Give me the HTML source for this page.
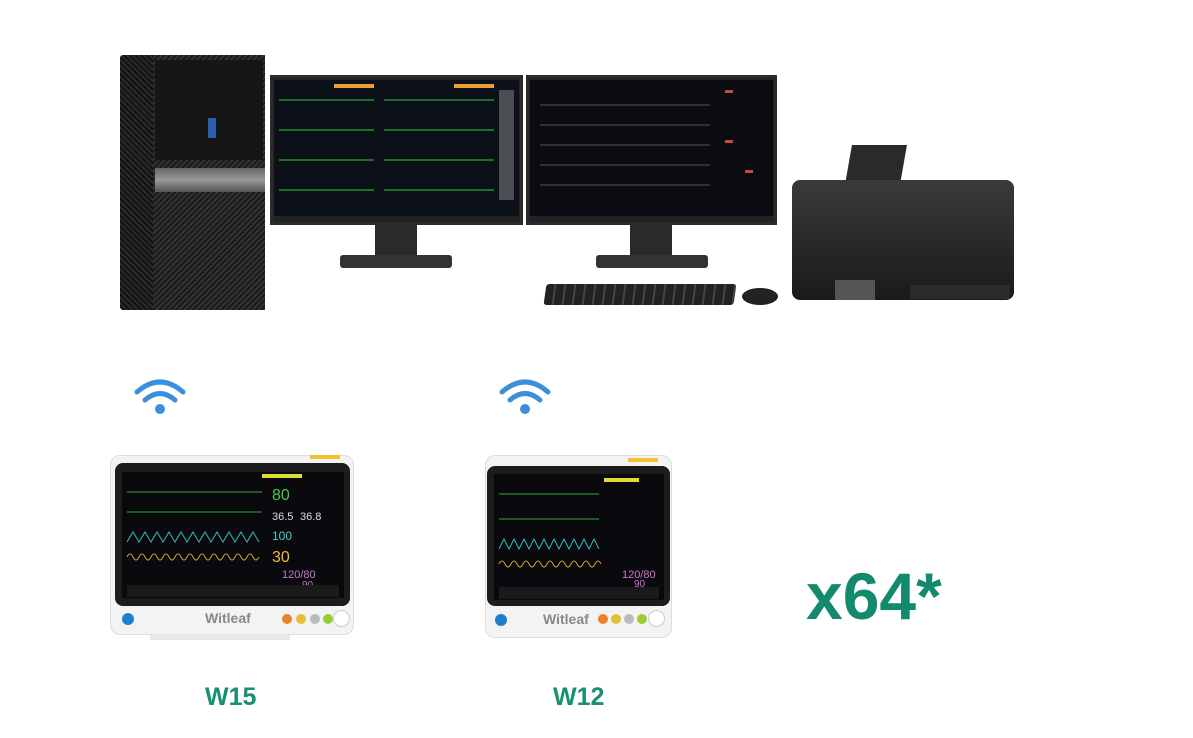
<!DOCTYPE html>
<html><head><style>
body{margin:0;width:1193px;height:738px;background:#fff;position:relative;overflow:hidden;font-family:"Liberation Sans",sans-serif}
div{position:absolute;box-sizing:border-box}
.scr{background:#0a0d12;border:4px solid #1a1a1a}
.wave{position:absolute}
.lbl{color:#169070;font-weight:bold;font-size:25px}
</style></head><body>
<!-- tower -->
<div style="left:120px;top:55px;width:145px;height:255px;background:repeating-linear-gradient(45deg,#2a2a2a 0 2px,#121212 2px 4px);border-radius:3px"></div>
<div style="left:153px;top:55px;width:112px;height:255px;background:repeating-linear-gradient(-45deg,#333 0 2px,#1a1a1a 2px 4px)"></div>
<div style="left:155px;top:168px;width:110px;height:24px;background:linear-gradient(#666,#999,#555)"></div>
<div style="left:155px;top:60px;width:108px;height:100px;background:#161616"></div>
<div style="left:208px;top:118px;width:8px;height:20px;background:#2a5fa8"></div>
<!-- monitors -->
<div style="left:270px;top:75px;width:253px;height:150px;background:#222;border:3px solid #2b2b2b"></div>
<div style="left:274px;top:80px;width:245px;height:136px;background:#0c1018">
<svg width="245" height="136"><g stroke="#3c3" stroke-width="1" fill="none">
<path d="M5 20 H100 M110 20 H220 M5 50 H100 M110 50 H220 M5 80 H100 M110 80 H220 M5 110 H100 M110 110 H220"/></g>
<g fill="#e8a030"><rect x="60" y="4" width="40" height="4"/><rect x="180" y="4" width="40" height="4"/></g>
<g fill="#ddd"><rect x="225" y="10" width="15" height="110" opacity=".3"/></g></svg></div>
<div style="left:375px;top:225px;width:42px;height:32px;background:#2a2a2a"></div>
<div style="left:340px;top:255px;width:112px;height:13px;background:#333;border-radius:3px"></div>
<div style="left:526px;top:75px;width:251px;height:150px;background:#222;border:3px solid #2b2b2b"></div>
<div style="left:530px;top:80px;width:243px;height:136px;background:#0a0c12">
<svg width="243" height="136"><g stroke="#556" stroke-width="1"><path d="M10 25H180M10 45H180M10 65H180M10 85H180M10 105H180"/></g>
<g fill="#c44"><rect x="195" y="10" width="8" height="3"/><rect x="195" y="60" width="8" height="3"/><rect x="215" y="90" width="8" height="3"/></g></svg></div>
<div style="left:630px;top:225px;width:42px;height:32px;background:#2a2a2a"></div>
<div style="left:596px;top:255px;width:112px;height:13px;background:#333;border-radius:3px"></div>
<!-- keyboard, mouse -->
<div style="left:545px;top:284px;width:190px;height:21px;background:repeating-linear-gradient(90deg,#222 0 8px,#444 8px 10px);border-radius:3px;transform:skewX(-8deg)"></div>
<div style="left:742px;top:288px;width:36px;height:17px;background:#222;border-radius:50%"></div>
<!-- printer -->
<div style="left:848px;top:145px;width:55px;height:45px;background:#2a2a2a;transform:skewX(-10deg)"></div>
<div style="left:792px;top:180px;width:222px;height:120px;background:linear-gradient(#3a3a3a,#1a1a1a);border-radius:8px"></div>
<div style="left:835px;top:280px;width:40px;height:20px;background:#555"></div>
<div style="left:910px;top:285px;width:100px;height:14px;background:#2a2a2a"></div>
<!-- wifi -->
<svg style="position:absolute;left:133px;top:376px" width="54" height="42" viewBox="0 0 54 42"><g fill="none" stroke="#3b8fd8" stroke-width="5" stroke-linecap="round"><path d="M4 16 Q27 -4 50 16"/><path d="M12 24 Q27 11 42 24"/></g><circle cx="27" cy="33" r="5" fill="#3b8fd8"/></svg>
<svg style="position:absolute;left:498px;top:376px" width="54" height="42" viewBox="0 0 54 42"><g fill="none" stroke="#3b8fd8" stroke-width="5" stroke-linecap="round"><path d="M4 16 Q27 -4 50 16"/><path d="M12 24 Q27 11 42 24"/></g><circle cx="27" cy="33" r="5" fill="#3b8fd8"/></svg>
<!-- W15 -->
<div style="left:110px;top:455px;width:244px;height:180px;background:#f3f3f3;border-radius:10px;border:1px solid #ddd"></div>
<div style="left:310px;top:455px;width:30px;height:4px;background:#f2c12e"></div>
<div style="left:115px;top:463px;width:235px;height:143px;background:#1c1c1c;border-radius:8px"></div>
<div style="left:122px;top:472px;width:222px;height:126px;background:#0a0a0e">
<svg width="222" height="126"><g fill="none" stroke-width="1"><path stroke="#3a3" d="M5 20H140M5 40H140"/><path stroke="#3bb" d="M5 70 l6-10 6 10 6-10 6 10 6-10 6 10 6-10 6 10 6-10 6 10 6-10 6 10 6-10 6 10 6-10 6 10 6-10 6 10 6-10 6 10 6-10 6 10"/><path stroke="#ca3" d="M5 85 q3-6 6 0 t6 0 t6 0 t6 0 t6 0 t6 0 t6 0 t6 0 t6 0 t6 0 t6 0 t6 0 t6 0 t6 0 t6 0 t6 0 t6 0 t6 0 t6 0 t6 0 t6 0 t6 0"/></g>
<text x="150" y="28" fill="#4c4" font-size="16">80</text><text x="150" y="48" fill="#ddd" font-size="11">36.5</text><text x="178" y="48" fill="#ddd" font-size="11">36.8</text><text x="150" y="68" fill="#4cc" font-size="12">100</text><text x="150" y="90" fill="#eb3" font-size="16">30</text><text x="160" y="106" fill="#c7c" font-size="11">120/80</text><text x="180" y="116" fill="#c7c" font-size="10">90</text>
<rect x="140" y="2" width="40" height="4" fill="#dd3"/><rect x="5" y="113" width="212" height="12" fill="#1a1a1a"/></svg></div>
<div style="left:122px;top:613px;width:12px;height:12px;border-radius:50%;background:#1f7fcf"></div>
<div style="left:205px;top:610px;font-size:14px;font-weight:bold;color:#888">Witleaf</div>
<div style="left:282px;top:614px;width:10px;height:10px;border-radius:50%;background:#e8832c"></div>
<div style="left:296px;top:614px;width:10px;height:10px;border-radius:50%;background:#e4c03a"></div>
<div style="left:310px;top:614px;width:10px;height:10px;border-radius:50%;background:#bbb"></div>
<div style="left:323px;top:614px;width:10px;height:10px;border-radius:50%;background:#9c3"></div>
<div style="left:333px;top:610px;width:17px;height:17px;border-radius:50%;background:#fff;border:1px solid #ccc"></div>
<div style="left:150px;top:634px;width:140px;height:6px;background:#e8e8e8"></div>
<!-- W12 -->
<div style="left:485px;top:455px;width:187px;height:183px;background:#f3f3f3;border-radius:10px;border:1px solid #ddd"></div>
<div style="left:628px;top:458px;width:30px;height:4px;background:#f2c12e"></div>
<div style="left:487px;top:466px;width:183px;height:140px;background:#1c1c1c;border-radius:8px"></div>
<div style="left:494px;top:474px;width:170px;height:126px;background:#0a0a0e">
<svg width="170" height="126"><g fill="none" stroke-width="1"><path stroke="#3a3" d="M5 20H105M5 45H105"/><path stroke="#3bb" d="M5 75 l5-10 5 10 5-10 5 10 5-10 5 10 5-10 5 10 5-10 5 10 5-10 5 10 5-10 5 10 5-10 5 10 5-10 5 10 5-10 5 10"/><path stroke="#ca3" d="M5 90 q3-6 6 0 t6 0 t6 0 t6 0 t6 0 t6 0 t6 0 t6 0 t6 0 t6 0 t6 0 t6 0 t6 0 t6 0 t6 0 t6 0 t6 0"/></g>
<text x="128" y="104" fill="#c7c" font-size="11">120/80</text><text x="140" y="113" fill="#c7c" font-size="10">90</text><rect x="110" y="4" width="35" height="4" fill="#dd3"/><rect x="5" y="113" width="160" height="12" fill="#1a1a1a"/></svg></div>
<div style="left:495px;top:614px;width:12px;height:12px;border-radius:50%;background:#1f7fcf"></div>
<div style="left:543px;top:611px;font-size:14px;font-weight:bold;color:#888">Witleaf</div>
<div style="left:598px;top:614px;width:10px;height:10px;border-radius:50%;background:#e8832c"></div>
<div style="left:611px;top:614px;width:10px;height:10px;border-radius:50%;background:#e4c03a"></div>
<div style="left:624px;top:614px;width:10px;height:10px;border-radius:50%;background:#bbb"></div>
<div style="left:637px;top:614px;width:10px;height:10px;border-radius:50%;background:#9c3"></div>
<div style="left:648px;top:610px;width:17px;height:17px;border-radius:50%;background:#fff;border:1px solid #ccc"></div>
<!-- labels -->
<div class="lbl" style="left:205px;top:683px">W15</div>
<div class="lbl" style="left:553px;top:683px">W12</div>
<div style="left:806px;top:558px;font-size:66px;font-weight:bold;color:#138a6e">x64*</div>
</body></html>
